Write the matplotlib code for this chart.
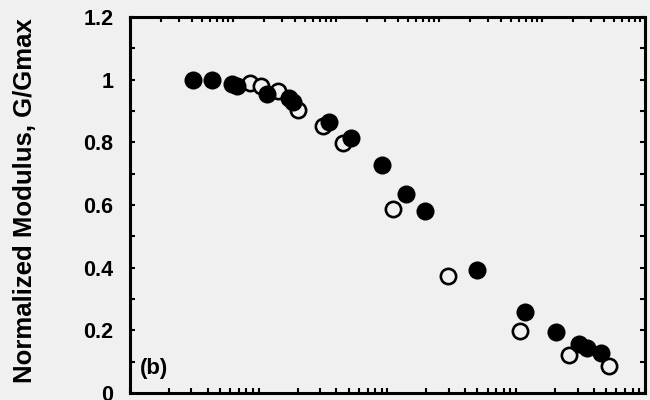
"""Normalized modulus reduction curve, panel (b)."""

import matplotlib

matplotlib.use("Agg")
import matplotlib.pyplot as plt
import numpy as np
from matplotlib.ticker import LogLocator, MultipleLocator, NullFormatter

# ---------------------------------------------------------------------------
# Data (shear strain, %, vs G/Gmax)
# ---------------------------------------------------------------------------
filled_strain = [3.1e-4, 4.3e-4, 6.2e-4, 6.8e-4, 1.15e-3, 1.72e-3, 1.85e-3,
                 3.5e-3, 5.2e-3, 9.0e-3, 0.0138, 0.0197, 0.050, 0.1175,
                 0.205, 0.308, 0.357, 0.454]
filled_ratio = [1.00, 1.00, 0.986, 0.979, 0.953, 0.941, 0.928, 0.864, 0.815,
                0.728, 0.636, 0.582, 0.394, 0.259, 0.194, 0.156, 0.145, 0.129]

open_strain = [8.5e-4, 1.05e-3, 1.41e-3, 2.02e-3, 3.13e-3, 4.5e-3, 0.0111,
               0.0293, 0.107, 0.258, 0.526]
open_ratio = [0.989, 0.981, 0.964, 0.902, 0.851, 0.798, 0.586, 0.375, 0.198,
              0.122, 0.085]

y_ticks = [0, 0.2, 0.4, 0.6, 0.8, 1.0, 1.2]
y_tick_labels = ["0", "0.2", "0.4", "0.6", "0.8", "1", "1.2"]

BG = "#f0f0f0"
INK = "black"

plt.rcParams["font.family"] = ["Liberation Sans", "DejaVu Sans"]
plt.rcParams["font.weight"] = "bold"

fig = plt.figure(figsize=(6.5, 4.0), dpi=100, facecolor=BG)
ax = fig.add_axes([0.2, 0.0175, 0.7923, 0.94])
ax.set_facecolor(BG)

ax.plot(open_strain, open_ratio, linestyle="", marker="o", markersize=11,
        markerfacecolor=BG, markeredgecolor=INK, markeredgewidth=1.9, zorder=3)
ax.plot(filled_strain, filled_ratio, linestyle="", marker="o", markersize=13,
        markerfacecolor=INK, markeredgecolor=INK, markeredgewidth=0, zorder=4)

ax.set_xscale("log")
ax.set_xlim(1e-4, 1)
ax.set_ylim(0, 1.2)

ax.xaxis.set_major_locator(LogLocator(base=10, numticks=20))
ax.xaxis.set_minor_locator(LogLocator(base=10, subs=np.arange(2, 10), numticks=20))
ax.xaxis.set_major_formatter(NullFormatter())
ax.xaxis.set_minor_formatter(NullFormatter())

ax.set_yticks(y_ticks)
ax.set_yticklabels(y_tick_labels)
ax.yaxis.set_minor_locator(MultipleLocator(0.1))

for spine in ax.spines.values():
    spine.set_linewidth(2.2)
    spine.set_color(INK)

ax.tick_params(axis="both", which="both", direction="in", length=3.5,
               width=1.5, color=INK)
ax.tick_params(axis="y", which="both", left=True, right=True)
ax.tick_params(axis="y", which="major", labelsize=15.5, pad=12)
ax.tick_params(axis="x", which="both", top=False, bottom=True)

# secondary strain axis on top (one more decade)
ax_top = ax.twiny()
ax_top.set_xscale("log")
ax_top.set_xlim(1e-5, 1)
ax_top.xaxis.set_major_locator(LogLocator(base=10, numticks=20))
ax_top.xaxis.set_minor_locator(LogLocator(base=10, subs=np.arange(2, 10), numticks=20))
ax_top.xaxis.set_major_formatter(NullFormatter())
ax_top.xaxis.set_minor_formatter(NullFormatter())
ax_top.tick_params(axis="x", which="both", direction="in", length=3.5,
                   width=1.5, color=INK)
for spine in ax_top.spines.values():
    spine.set_visible(False)

ax.set_ylabel("Normalized Modulus, G/Gmax", fontsize=18.5, fontweight="bold")
ax.yaxis.set_label_coords(-0.18, 0.513)

ax.text(0.02, 0.065, "(b)", transform=ax.transAxes, fontsize=16,
        fontweight="bold", ha="left", va="center")

fig.savefig("out.png", dpi=100, facecolor=BG)
